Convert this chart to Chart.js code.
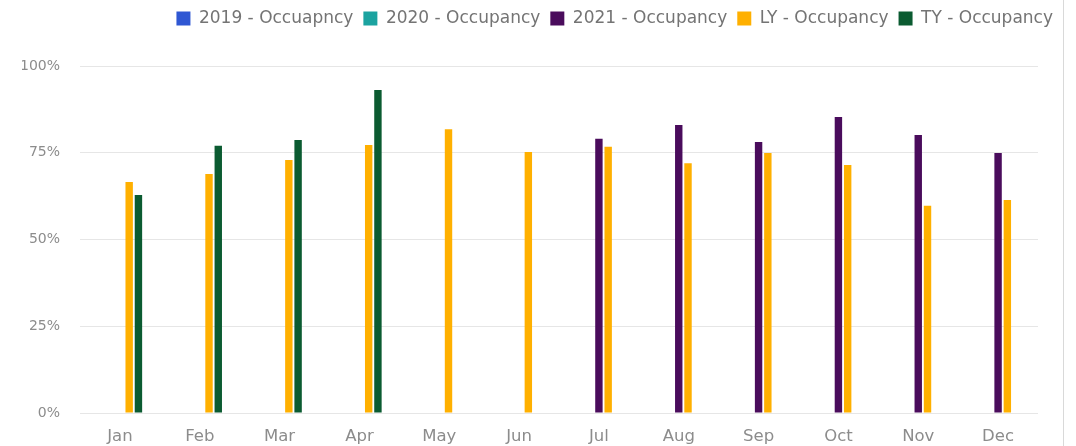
<!DOCTYPE html>
<html>
<head>
<meta charset="utf-8">
<script src="https://cdn.jsdelivr.net/npm/chart.js@4.4.0/dist/chart.umd.min.js"></script>
<style>
    html, body { margin: 0; padding: 0; background: #fff; }
    #wrap { position: relative; width: 1063px; height: 446px; border-right: 1px solid #d9d9d9; }
</style>
</head>
<body>
<div id="wrap"><canvas id="occChart"></canvas></div>
<script>
// Podatki za graf
const months = ['Jan', 'Feb', 'Mar', 'Apr', 'May', 'Jun', 'Jul', 'Aug', 'Sep', 'Oct', 'Nov', 'Dec'];
const occ2019 = [null, null, null, null, null, null, null, null, null, null, null, null];
const occ2020 = [null, null, null, null, null, null, null, null, null, null, null, null];
const occ2021 = [null, null, null, null, null, null, 79, 83, 78.1, 85.3, 80.1, 74.9];
const occLY = [66.6, 68.9, 72.9, 77.2, 81.8, 75.2, 76.7, 72, 74.9, 71.5, 59.7, 61.4];
const occTY = [62.8, 77, 78.7, 93.1, null, null, null, null, null, null, null, null];
const yTicks = [0, 25, 50, 75, 100];

const fontFamily = "'DejaVu Sans', sans-serif";

function makeSet(label, data, color) {
    return {
        label: label,
        data: data,
        backgroundColor: color,
        borderWidth: 0,
        categoryPercentage: 0.58,
        barPercentage: 0.8
    };
}

// dodaten prostor pod legendo
const legendGap = {
    id: 'legendGap',
    beforeInit(chart) {
        const origFit = chart.legend.fit;
        chart.legend.fit = function () {
            origFit.call(this);
            this.height += 29;
        };
    }
};

const ctx = document.getElementById('occChart').getContext('2d');
new Chart(ctx, {
    type: 'bar',
    data: {
        labels: months,
        datasets: [
            makeSet('2019 - Occuapncy', occ2019, '#2f57d3'),
            makeSet('2020 - Occupancy', occ2020, '#1ba3a0'),
            makeSet('2021 - Occupancy', occ2021, '#4a0c5c'),
            makeSet('LY - Occupancy', occLY, '#ffb000'),
            makeSet('TY - Occupancy', occTY, '#0b5b31')
        ]
    },
    plugins: [legendGap],
    options: {
        responsive: true,
        maintainAspectRatio: false,
        animation: false,
        layout: { padding: { top: 0, left: 22, right: 0, bottom: 0 } },
        plugins: {
            legend: {
                position: 'top',
                align: 'end',
                labels: {
                    boxWidth: 14,
                    boxHeight: 14,
                    padding: 10,
                    color: '#747474',
                    font: { family: fontFamily, size: 17 }
                }
            },
            tooltip: { enabled: false }
        },
        scales: {
            x: {
                grid: { display: false, drawTicks: false },
                border: { display: false },
                ticks: {
                    color: '#8c8c8c',
                    padding: 14,
                    font: { family: fontFamily, size: 16.5 }
                },
                afterFit: function (scale) { scale.height = 33; }
            },
            y: {
                min: 0,
                max: 100,
                afterBuildTicks: function (scale) {
                    scale.ticks = yTicks.map(v => ({ value: v }));
                },
                grid: { color: '#e6e6e6', drawTicks: false },
                border: { display: false },
                ticks: {
                    color: '#8c8c8c',
                    padding: 20,
                    font: { family: fontFamily, size: 14 },
                    callback: v => v + '%'
                },
                afterFit: function (scale) { scale.width = 58; }
            },
            yRight: {
                position: 'right',
                grid: { display: false },
                border: { display: false },
                ticks: { display: false },
                afterFit: function (scale) { scale.width = 25; }
            }
        }
    }
});
</script>
</body>
</html>
